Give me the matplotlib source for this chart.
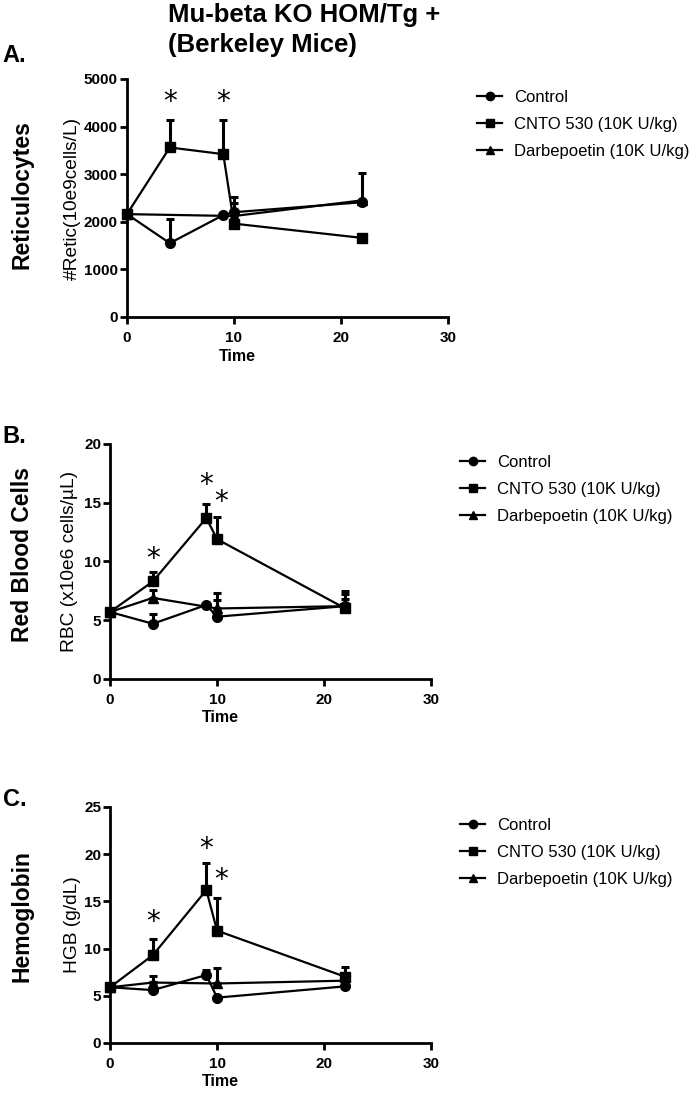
import numpy as np
import matplotlib
matplotlib.use('Agg')
import matplotlib.pyplot as plt
from matplotlib.lines import Line2D

plt.rcParams['font.family'] = ['Liberation Sans', 'DejaVu Sans']

# time points
t_all = [0, 4, 9, 10, 22]
t_darb_a = [0, 10, 22]
t_darb = [0, 4, 10, 22]

# A. Reticulocytes (#Retic 10e9 cells/L)
retic_ctrl = [2160, 1550, 2140, 2200, 2410]
retic_ctrl_err = [0, 500, 0, 200, 610]
retic_cnto = [2160, 3560, 3420, 1960, 1660]
retic_cnto_err = [0, 580, 720, 0, 0]
retic_darb = [2160, 2120, 2450]
retic_darb_err = [0, 400, 0]
retic_stars = [(4, 4520), (9, 4520)]

# B. Red blood cells (x10e6 cells/uL)
rbc_ctrl = [5.7, 4.7, 6.3, 5.3, 6.2]
rbc_ctrl_err = [0, 0.8, 0, 1.4, 1.3]
rbc_cnto = [5.7, 8.3, 13.7, 11.9, 6.0]
rbc_cnto_err = [0, 0.8, 1.2, 1.9, 0.8]
rbc_darb = [5.7, 6.9, 6.0, 6.2]
rbc_darb_err = [0, 0.7, 1.3, 1.0]
rbc_stars = [(4, 10.2), (9, 16.5), (10.4, 15.1)]

# C. Hemoglobin (g/dL)
hgb_ctrl = [5.9, 5.6, 7.2, 4.8, 6.0]
hgb_ctrl_err = [0, 0.9, 0.5, 0, 0.7]
hgb_cnto = [5.9, 9.3, 16.2, 11.9, 7.0]
hgb_cnto_err = [0, 1.7, 2.9, 3.5, 1.0]
hgb_darb = [5.9, 6.4, 6.3, 6.6]
hgb_darb_err = [0, 0.7, 1.6, 0.6]
hgb_stars = [(4, 12.8), (9, 20.6), (10.4, 17.3)]

labels = ['Control', 'CNTO 530 (10K U/kg)', 'Darbepoetin (10K U/kg)']
markers = ['o', 's', '^']

fig = plt.figure(figsize=(6.89, 10.96), dpi=100)


def panel(rect, series, ymax, ystep, ylab, ylab_x, stars):
    ax = fig.add_axes(rect)
    for (x, y, e), m in zip(series, markers):
        ax.errorbar(x, y, yerr=[np.zeros(len(e)), e], color='black', marker=m,
                    ms=7 if m != '^' else 7.5, lw=1.6, elinewidth=2.2,
                    capsize=3, capthick=2.2, clip_on=False, zorder=3)
    for sx, sy in stars:
        ax.text(sx, sy, '*', ha='center', va='center', fontsize=20,
                family='DejaVu Sans')
    ax.set_xlim(0, 30)
    ax.set_ylim(0, ymax)
    ax.set_xticks([0, 10, 20, 30])
    ax.set_yticks(np.arange(0, ymax + 1e-9, ystep))
    for s in ['top', 'right']:
        ax.spines[s].set_visible(False)
    for s in ['left', 'bottom']:
        ax.spines[s].set_linewidth(2)
    ax.tick_params(width=2, length=5, labelsize=11)
    ax.tick_params(axis='x', pad=5)
    ax.tick_params(axis='y', pad=1.5)
    for lb in ax.get_xticklabels() + ax.get_yticklabels():
        lb.set_fontweight('bold')
    ax.set_xlabel('Time', fontsize=11.5, fontweight='bold')
    ax.xaxis.set_label_coords(0.345, -0.165)
    ax.xaxis.label.set_va('center')
    ax.set_ylabel(ylab, fontsize=13.8)
    ax.yaxis.set_label_coords(ylab_x, 0.5)
    ax.yaxis.label.set_va('center')
    return ax


axA = panel([0.1843, 0.7108, 0.4659, 0.2172],
            [(t_all, retic_ctrl, retic_ctrl_err),
             (t_all, retic_cnto, retic_cnto_err),
             (t_darb_a, retic_darb, retic_darb_err)],
            5000, 1000, '#Retic(10e9cells/L)', -0.171, retic_stars)
axB = panel([0.1597, 0.3805, 0.4659, 0.2144],
            [(t_all, rbc_ctrl, rbc_ctrl_err),
             (t_all, rbc_cnto, rbc_cnto_err),
             (t_darb, rbc_darb, rbc_darb_err)],
            20, 5, 'RBC (x10e6 cells/µL)', -0.125, rbc_stars)
axC = panel([0.1597, 0.0484, 0.4659, 0.2153],
            [(t_all, hgb_ctrl, hgb_ctrl_err),
             (t_all, hgb_cnto, hgb_cnto_err),
             (t_darb, hgb_darb, hgb_darb_err)],
            25, 5, 'HGB (g/dL)', -0.118, hgb_stars)

# legends to the right of each panel
handles = [Line2D([], [], color='black', marker=m, ms=6, lw=1.6) for m in markers]
for ax in [axA, axB, axC]:
    ax.legend(handles, labels, loc='upper left', bbox_to_anchor=(1.07, 0.983),
              frameon=False, fontsize=12, handlelength=1.5, handletextpad=0.7,
              labelspacing=0.72, borderaxespad=0)

# titles and panel letters
fig.text(0.244, 1 - 3 / 1096, 'Mu-beta KO HOM/Tg +\n(Berkeley Mice)', ha='left',
         va='top', fontsize=18.5, fontweight='bold', linespacing=1.3)
fig.text(0.004, 1 - 56 / 1096, 'A.', fontsize=17, fontweight='bold', va='center')
fig.text(0.004, 1 - 437 / 1096, 'B.', fontsize=17, fontweight='bold', va='center')
fig.text(0.004, 1 - 800 / 1096, 'C.', fontsize=17, fontweight='bold', va='center')

fig.text(0.032, 1 - 195 / 1096, 'Reticulocytes', rotation=90, ha='center',
         va='center', fontsize=16.5, fontweight='bold')
fig.text(0.032, 1 - 554 / 1096, 'Red Blood Cells', rotation=90, ha='center',
         va='center', fontsize=16.5, fontweight='bold')
fig.text(0.032, 1 - 916 / 1096, 'Hemoglobin', rotation=90, ha='center',
         va='center', fontsize=16.5, fontweight='bold')

fig.savefig('out.png', dpi=100)
